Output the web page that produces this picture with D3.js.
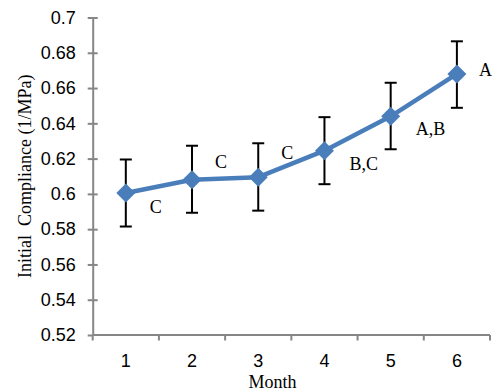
<!DOCTYPE html>
<html lang="en">
<head>
  <meta charset="UTF-8">
  <title>Initial Compliance by Month</title>
  <script src="https://d3js.org/d3.v7.min.js"></script>
  <style>
    body { margin: 0; background: #fff; }
    svg { display: block; font-family: "Liberation Serif", "Times New Roman", serif; }
    .axis path, .axis line { stroke: #868686; stroke-width: 2px; }
    .axis text { font-size: 18px; fill: #000; }
    .err { stroke: #000; stroke-width: 2px; }
    .lbl { font-size: 18px; fill: #000; }
  </style>
</head>
<body>
  <svg width="494" height="392"></svg>

  <script>
    const months = ["1", "2", "3", "4", "5", "6"];
    const compliance = [0.6005, 0.608, 0.6095, 0.6245, 0.644, 0.668];
    const errUpper = [0.6195, 0.6273, 0.6287, 0.6435, 0.663, 0.6865];
    const errLower = [0.5815, 0.5893, 0.5905, 0.6055, 0.6253, 0.6488];
    const groups = ["C", "C", "C", "B,C", "A,B", "A"];
    const yTicks = [0.52, 0.54, 0.56, 0.58, 0.6, 0.62, 0.64, 0.66, 0.68, 0.7];

    // label nudges (px from the marker), separate from the data
    const labelShift = [[24, 20], [23, -12], [23, -18], [25, 19], [25, 19], [22, 2]];

    const svg = d3.select("svg");
    const plotL = 92.7, plotR = 490, plotT = 17.5, plotB = 335;

    const x = d3.scaleBand().domain(months).range([plotL, plotR]);
    const y = d3.scaleLinear().domain([0.52, 0.7]).range([plotB, plotT]);

    // y axis, ticks crossing the line
    const yAxis = svg.append("g")
      .attr("class", "axis")
      .attr("transform", `translate(${plotL},0)`)
      .call(d3.axisLeft(y).tickValues(yTicks).tickSizeOuter(0).tickSizeInner(5).tickPadding(12)
        .tickFormat(d => String(+d.toFixed(2))));
    yAxis.selectAll(".tick line").attr("x2", -5).attr("x1", 5);
    yAxis.selectAll(".tick:first-of-type line").attr("x1", 0);

    // x axis: labels centred in bands, tick marks on band edges
    const xAxis = svg.append("g")
      .attr("class", "axis")
      .attr("transform", `translate(0,${plotB})`)
      .call(d3.axisBottom(x).tickSize(0).tickPadding(19));
    xAxis.select(".domain").attr("d", `M${plotL},0H${plotR}`);
    const edges = months.map(m => x(m)).concat([x.range()[1]]);
    xAxis.selectAll(".edge")
      .data(edges)
      .enter().append("line")
      .attr("class", "edge")
      .attr("x1", d => d).attr("x2", d => d)
      .attr("y1", 0).attr("y2", 5.5);

    const cx = i => x(months[i]) + x.bandwidth() / 2;

    // error bars
    const eb = svg.append("g").selectAll("g")
      .data(months)
      .enter().append("g")
      .attr("class", "err");
    eb.append("line")
      .attr("x1", (d, i) => cx(i)).attr("x2", (d, i) => cx(i))
      .attr("y1", (d, i) => y(errUpper[i])).attr("y2", (d, i) => y(errLower[i]));
    eb.append("line")
      .attr("x1", (d, i) => cx(i) - 6).attr("x2", (d, i) => cx(i) + 6)
      .attr("y1", (d, i) => y(errUpper[i])).attr("y2", (d, i) => y(errUpper[i]));
    eb.append("line")
      .attr("x1", (d, i) => cx(i) - 6).attr("x2", (d, i) => cx(i) + 6)
      .attr("y1", (d, i) => y(errLower[i])).attr("y2", (d, i) => y(errLower[i]));

    // line
    const line = d3.line()
      .x((d, i) => cx(i))
      .y(d => y(d));
    svg.append("path")
      .datum(compliance)
      .attr("fill", "none")
      .attr("stroke", "#4A7EBB")
      .attr("stroke-width", 4.5)
      .attr("stroke-linejoin", "round")
      .attr("d", line);

    // diamond markers
    svg.append("g").selectAll("path")
      .data(compliance)
      .enter().append("path")
      .attr("fill", "#4A7EBB")
      .attr("d", "M0,-9.5L9.5,0L0,9.5L-9.5,0Z")
      .attr("transform", (d, i) => `translate(${cx(i)},${y(d)})`);

    // significance letters
    svg.append("g").selectAll("text")
      .data(groups)
      .enter().append("text")
      .attr("class", "lbl")
      .attr("x", (d, i) => cx(i) + labelShift[i][0])
      .attr("y", (d, i) => y(compliance[i]) + labelShift[i][1])
      .text(d => d);

    // axis titles
    svg.append("text")
      .attr("transform", `translate(31,${(plotT + plotB) / 2}) rotate(-90)`)
      .attr("text-anchor", "middle")
      .style("white-space", "pre")
      .style("font-size", "18px")
      .text("Initial  Compliance (1/MPa)");

    svg.append("text")
      .attr("x", 272.5)
      .attr("y", 388)
      .attr("text-anchor", "middle")
      .style("font-size", "18px")
      .text("Month");
  </script>
</body>
</html>
